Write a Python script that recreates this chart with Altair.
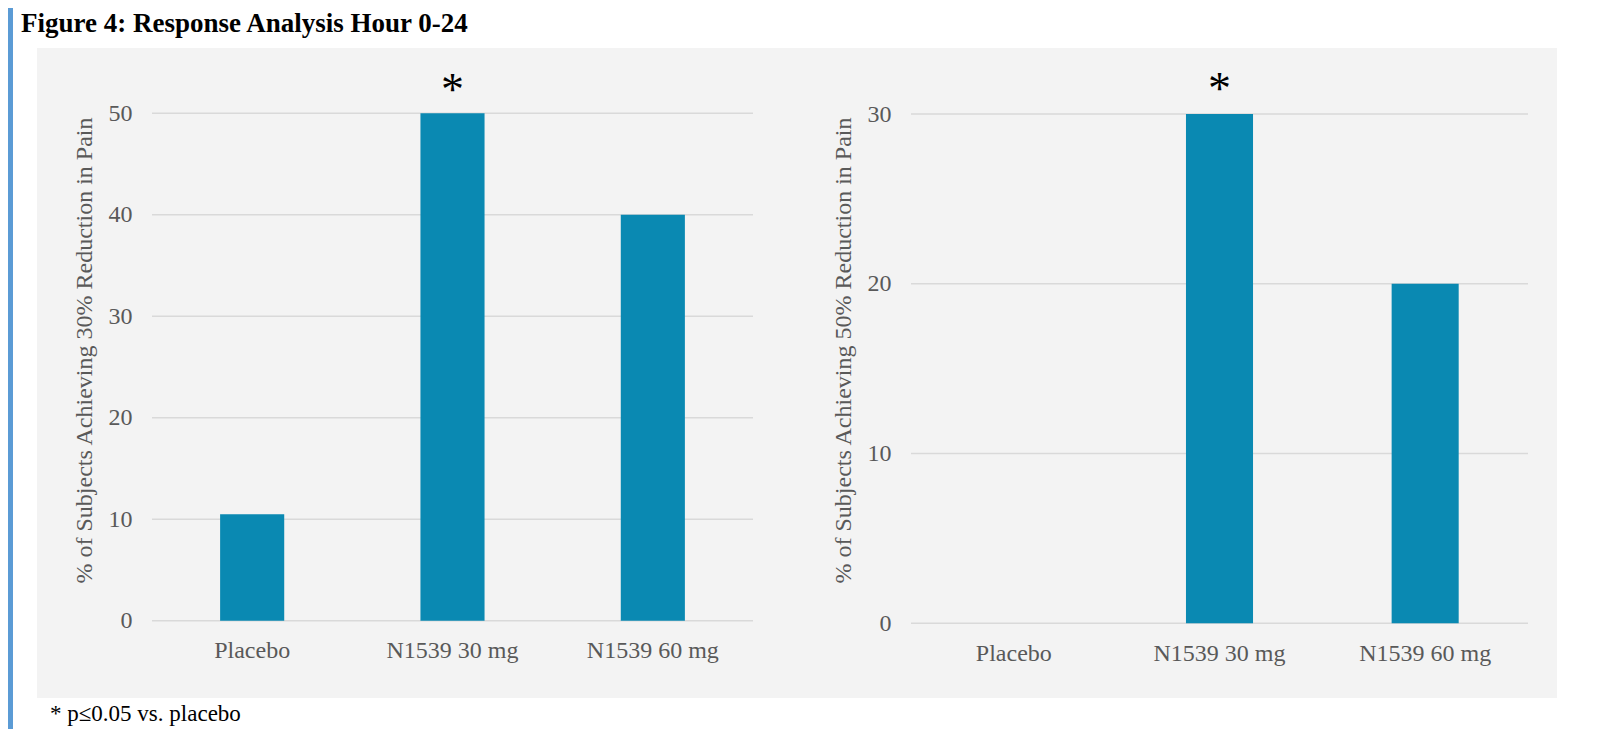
import altair as alt
import pandas as pd

# ---- data ----
categories = ["Placebo", "N1539 30 mg", "N1539 60 mg"]
pct_30 = [10.5, 50, 40]          # % achieving 30% reduction in pain
pct_50 = [0, 30, 20]             # % achieving 50% reduction in pain
significant = [False, True, False]
ticks_30 = [0, 10, 20, 30, 40, 50]
ticks_50 = [0, 10, 20, 30]

title_text = "Figure 4: Response Analysis Hour 0-24"
footnote_text = "* p\u22640.05 vs. placebo"
ytitle_30 = "% of Subjects Achieving 30% Reduction in Pain"
ytitle_50 = "% of Subjects Achieving 50% Reduction in Pain"

BAR = "#0a89b2"
GRID = "#d9d9d9"
TXT = "#595959"
FONT = "Liberation Serif"

df30 = pd.DataFrame({"category": categories, "value": pct_30, "sig": significant})
df50 = pd.DataFrame({"category": categories, "value": pct_50, "sig": significant})
g30 = pd.DataFrame({"v": ticks_30})
g50 = pd.DataFrame({"v": ticks_50})

W, H = 1376, 514


def panel(df, grid, ymax, xrange, yrange, pad_inner, ytitle, yoffset, xlabpad, star_dy):
    def xs():
        return alt.Scale(domain=categories, range=xrange, paddingInner=pad_inner,
                         paddingOuter=pad_inner / 2)

    def ys():
        return alt.Scale(domain=[0, ymax], range=yrange, nice=False, zero=True)

    gridl = alt.Chart(grid).mark_rule(color=GRID, strokeWidth=1.4).encode(
        y=alt.Y("v:Q", scale=ys(), axis=None),
        x=alt.value(xrange[0]), x2=alt.value(xrange[1]),
    )
    bars = alt.Chart(df).mark_bar(color=BAR).encode(
        x=alt.X("category:N", sort=categories, scale=xs(),
                axis=alt.Axis(title=None, orient="bottom", labelAngle=0, ticks=False, tickSize=0,
                              domain=False, labelPadding=xlabpad, labelFont=FONT,
                              labelFontSize=24, labelColor=TXT, zindex=1)),
        y=alt.Y("value:Q", scale=ys(),
                axis=alt.Axis(title=ytitle, orient="left", values=grid["v"].tolist(),
                              grid=False, ticks=False, tickSize=0, domain=False,
                              labelPadding=20, labelFont=FONT, labelFontSize=24,
                              labelColor=TXT, titleFont=FONT, titleFontSize=24,
                              titleFontWeight="normal", titleColor=TXT,
                              titleX=-61, titleY=240, titleAngle=270,
                              titleBaseline="alphabetic", titleAlign="center",
                              offset=yoffset, zindex=1)),
    )
    star = alt.Chart(df).transform_filter("datum.sig").mark_text(
        text="*", font=FONT, fontSize=46, color="black", baseline="alphabetic",
        dy=star_dy,
    ).encode(
        x=alt.X("category:N", sort=categories, scale=xs(), axis=None),
        y=alt.Y("value:Q", scale=ys(), axis=None),
    )
    return [gridl, bars, star]


left = panel(df30, g30, 50, [0, 601], [510.7, 3.3], 0.68, ytitle_30, 0, 14, -8)
right = panel(df50, g50, 30, [759, 1376], [513.3, 4], 0.674, ytitle_50, -759, 17, -10)

bg = alt.Chart(pd.DataFrame({"a": [0]})).mark_rect(color="#f3f3f3").encode(
    x=alt.value(-115), x2=alt.value(1405), y=alt.value(-62), y2=alt.value(588)
)
strip = alt.Chart(pd.DataFrame({"a": [0]})).mark_rect(color="#5b9bd5").encode(
    x=alt.value(-144), x2=alt.value(-139), y=alt.value(-102), y2=alt.value(625)
)
title = alt.Chart(pd.DataFrame({"t": [title_text]})).mark_text(
    font=FONT, fontSize=27, fontWeight="bold", color="black", align="left",
    baseline="alphabetic",
).encode(text="t:N", x=alt.value(-131), y=alt.value(-78))
foot = alt.Chart(pd.DataFrame({"t": [footnote_text]})).mark_text(
    font=FONT, fontSize=23, color="black", align="left", baseline="alphabetic",
).encode(text="t:N", x=alt.value(-102), y=alt.value(611))

chart = alt.layer(bg, strip, title, foot, *left, *right).resolve_scale(
    x="independent", y="independent"
).properties(
    width=W, height=H,
    autosize=alt.AutoSizeParams(type="none"),
    padding={"left": 144, "top": 102, "right": 40, "bottom": 105},
    background="white",
).configure_view(stroke=None)

chart.save("out.html", embed_options={"renderer": "svg", "actions": False})
